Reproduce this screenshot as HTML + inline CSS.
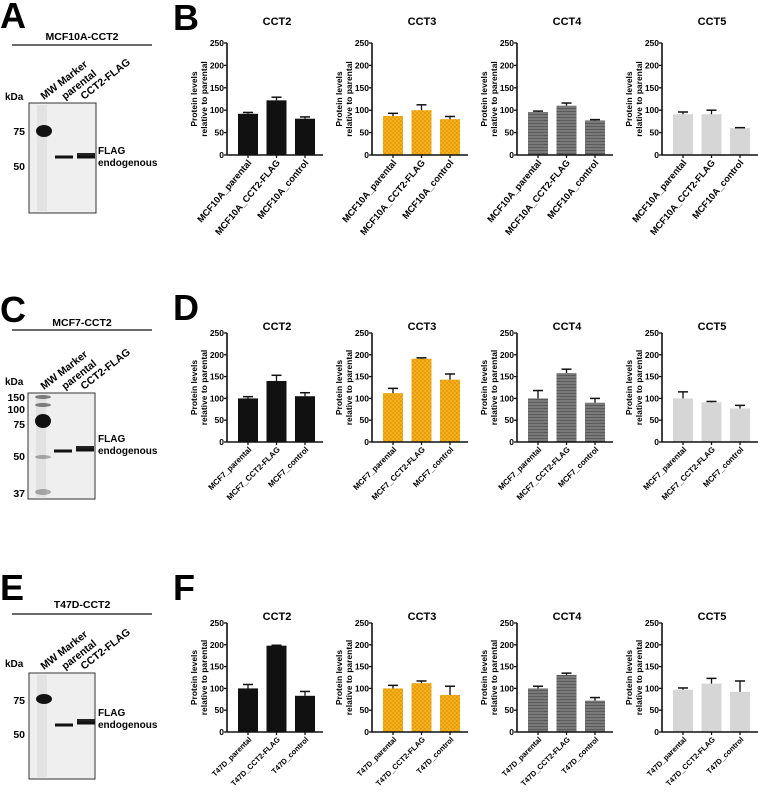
<!DOCTYPE html>
<html><head><meta charset="utf-8"><style>
body{margin:0;background:#fff;}
svg{display:block;font-family:"Liberation Sans",Arial,sans-serif;font-weight:bold;}
</style></head><body>
<svg id="fig" width="758" height="792" viewBox="0 0 758 792">
<defs>
<pattern id="checker" width="4" height="4" patternUnits="userSpaceOnUse"><rect width="4" height="4" fill="#f3b21c"/><rect width="2" height="2" fill="#e89c10"/><rect x="2" y="2" width="2" height="2" fill="#e89c10"/></pattern>
<pattern id="stripes" width="4" height="3" patternUnits="userSpaceOnUse"><rect width="4" height="3" fill="#7a7a7a"/><rect width="4" height="1" fill="#5a5a5a"/></pattern>
</defs>
<g id="blots"></g>
<g id="charts"></g>
</svg>
<script>
const cats = ["_parental","_CCT2-FLAG","_control"];
const rowsCell = ["MCF10A","MCF7","T47D"];
const genes = ["CCT2","CCT3","CCT4","CCT5"];
const yTicks = [0,50,100,150,200,250];
const valsB = [[92,122,81],[87,100,80],[96,110,77],[91,91,60]];
const errB  = [[3,7,4],[6,12,6],[2,6,2],[5,9,1]];
const valsD = [[100,140,105],[112,191,143],[100,158,90],[100,91,77]];
const errD  = [[4,13,8],[11,2,13],[18,9,10],[15,2,7]];
const valsF = [[100,198,83],[100,112,85],[100,131,72],[97,111,92]];
const errF  = [[9,1,10],[7,5,20],[5,4,7],[4,12,25]];

const NS="http://www.w3.org/2000/svg";
function mk(parent,tag,attrs,text){const e=document.createElementNS(NS,tag);for(const k in attrs)e.setAttribute(k,attrs[k]);if(text!==undefined)e.textContent=text;parent.appendChild(e);return e;}
const charts=document.getElementById('charts');
const blots=document.getElementById('blots');
const fills=["#111","url(#checker)","url(#stripes)","#d6d6d6"];
const axisX=[227,372,517,662];
const rowGeo=[{y0:155,y250:43,title:25,letter:"B",ly:30,fs:9.3,ang:-50},{y0:442,y250:333,title:330,letter:"D",ly:320,fs:8,ang:-45},{y0:732,y250:623,title:620,letter:"F",ly:600,fs:7.6,ang:-45}];
const allVals=[valsB,valsD,valsF], allErr=[errB,errD,errF];

rowGeo.forEach((g,r)=>{
  const L=mk(charts,'text',{x:173,y:g.ly,'font-size':36},g.letter);
  
  
  genes.forEach((gene,p)=>{
    const x0=axisX[p];
    const grp=mk(charts,'g',{});
    
    
    const yS=v=>g.y0-(v/250)*(g.y0-g.y250);
    const t=mk(grp,'text',{x:x0+50,y:g.title,'font-size':11,'text-anchor':'middle'},gene);
    
    
    const ym=(g.y0+g.y250)/2;
    const yl=mk(grp,'text',{transform:`translate(${x0-30},${ym}) rotate(-90)`,'font-size':8.5,'text-anchor':'middle'});
    
    
    mk(yl,'tspan',{x:0,dy:0},'Protein levels');
    mk(yl,'tspan',{x:0,dy:10},'relative to parental');
    cats.forEach((c,i)=>{
      const cx=x0+21+i*28.5, v=allVals[r][p][i], e=allErr[r][p][i];
      const b=mk(grp,'rect',{x:cx-10,y:yS(v),width:20,height:g.y0-yS(v),fill:fills[p]});
      
      
      const ey=yS(v+e);
      mk(grp,'line',{x1:cx,x2:cx,y1:yS(v),y2:ey,stroke:'#111','stroke-width':1.3});
      mk(grp,'line',{x1:cx-5,x2:cx+5,y1:ey,y2:ey,stroke:'#111','stroke-width':1.5});
      mk(grp,'line',{x1:cx,x2:cx,y1:g.y0,y2:g.y0+3,stroke:'#111','stroke-width':1.3});
      const xl=mk(grp,'text',{transform:`translate(${cx+4},${g.y0+8}) rotate(${g.ang})`,'font-size':g.fs,'text-anchor':'end'},rowsCell[r]+c);
      
      
    });
    mk(grp,'line',{x1:x0,x2:x0,y1:g.y250,y2:g.y0,stroke:'#111','stroke-width':1.6});
    mk(grp,'line',{x1:x0,x2:x0+96,y1:g.y0,y2:g.y0,stroke:'#111','stroke-width':1.6});
    yTicks.forEach(v=>{
      mk(grp,'line',{x1:x0-3,x2:x0,y1:yS(v),y2:yS(v),stroke:'#111','stroke-width':1.3});
      const tl=mk(grp,'text',{x:x0-3,y:yS(v)+3,'font-size':8.5,'text-anchor':'end'},v);
      
      
    });
  });
});

const blotGeo=[
 {letter:"A",ly:28,title:"MCF10A-CCT2",ty:40,line:45,box:[29,103,96,213],kda:100,marks:[["75",131],["50",166]],flag:154,marker:[[131,6,1]],bands:[[157,false],[157,true]]},
 {letter:"C",ly:322,title:"MCF7-CCT2",ty:326,line:330,box:[28,393,95,499],kda:385,marks:[["150",397],["100",409],["75",424],["50",456],["37",493]],flag:442,marker:[[421,7,1],[397,2,0.5],[405,2,0.5],[457,2,0.3],[492,3,0.3]],bands:[[451,false],[450,true]]},
 {letter:"E",ly:600,title:"T47D-CCT2",ty:608,line:614,box:[29,673,95,779],kda:667,marks:[["75",700],["50",734]],flag:716,marker:[[699,5,1]],bands:[[725,false],[723,true]]}
];
blotGeo.forEach(b=>{
  const g=mk(blots,'g',{});
  
  
  mk(g,'text',{x:0,y:b.ly,'font-size':36},b.letter);
  mk(g,'text',{x:82,y:b.ty,'font-size':10.5,'text-anchor':'middle'},b.title);
  mk(g,'line',{x1:12,x2:152,y1:b.line,y2:b.line,stroke:'#111','stroke-width':1.2});
  const [x1,y1,x2,y2]=b.box;
  mk(g,'text',{x:5,y:b.kda,'font-size':10},'kDa');
  [["MW Marker",44],["parental",65],["CCT2-FLAG",84]].forEach(([s,x])=>{
    mk(g,'text',{transform:`translate(${x},${y1-3}) rotate(-38)`,'font-size':10.5},s);
  });
  mk(g,'rect',{x:x1,y:y1,width:x2-x1,height:y2-y1,fill:'#efefef',stroke:'#333','stroke-width':1});
  b.marks.forEach(([s,y])=>mk(g,'text',{x:25,y:y+4,'font-size':10.5,'text-anchor':'end'},s));
  mk(g,'rect',{x:x1+8,y:y1+2,width:10,height:y2-y1-4,fill:'#e2e2e2'});
  b.marker.forEach(([y,h,o])=>mk(g,'ellipse',{cx:x1+15,cy:y,rx:8,ry:h,fill:'#111',opacity:o}));
  b.bands.forEach(([y,dbl],i)=>{
    const bx=x1+26+i*22;
    mk(g,'rect',{x:bx,y:y-1.5,width:18,height:3,fill:'#111'});
    if(dbl) mk(g,'rect',{x:bx,y:y-4,width:18,height:2.5,fill:'#222'});
  });
  mk(g,'text',{x:98,y:b.flag,'font-size':10},'FLAG');
  mk(g,'text',{x:98,y:b.flag+12,'font-size':10},'endogenous');
});
</script>
</body></html>
